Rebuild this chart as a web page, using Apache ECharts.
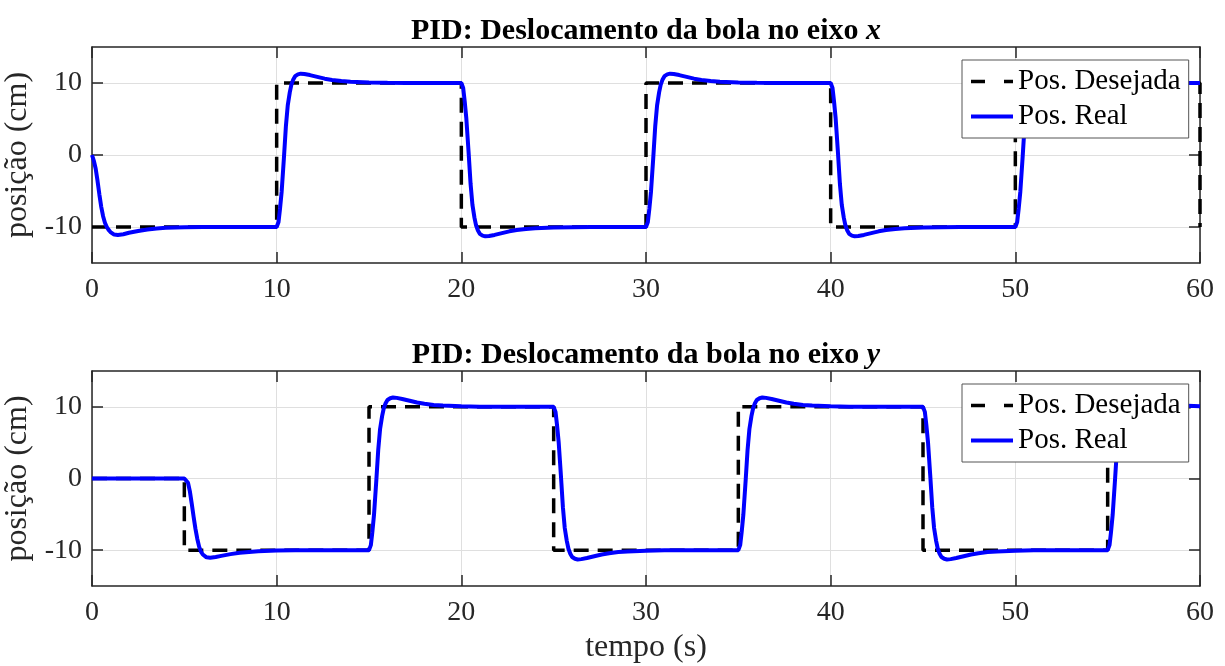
<!DOCTYPE html>
<html lang="pt">
<head>
    <meta charset="UTF-8">
    <title>pid-deslocamento</title>
    <script src="https://cdn.jsdelivr.net/npm/echarts@6/dist/echarts.min.js"></script>
    <style>
        html, body { margin: 0; padding: 0; background: #fff; }
        #main { width: 1225px; height: 666px; }
    </style>
</head>
<body>
<div id="main"></div>
<script>
    // eixo do tempo
    let tempoTicks = [0, 10, 20, 30, 40, 50, 60];
    let posTicks = [-10, 0, 10];

    // eixo x: posicao desejada (degraus)
    let desejadaX = [[0, -10], [10, -10], [10, 10], [20, 10], [20, -10], [30, -10], [30, 10],
        [40, 10], [40, -10], [50, -10], [50, 10], [60, 10], [60, -10]];

    // eixo x: posicao real
    let realX = [
        [0, 0], [0.1, -0.8], [0.2, -1.9], [0.3, -3.6], [0.4, -5.5], [0.5, -7.2], [0.6, -8.5], [0.7, -9.4],
        [0.8, -10.0], [0.9, -10.4], [1.0, -10.7], [1.2, -11.05], [1.4, -11.1], [1.7, -11.0], [2.0, -10.8],
        [2.5, -10.55], [3.0, -10.35], [3.5, -10.2], [4.0, -10.12], [5.0, -10.04], [6.0, -10.01], [10.0, -10.0],
        [10.05, -9.9], [10.1, -9.3], [10.18, -7.5], [10.27, -5.1], [10.39, -0.5], [10.5, 4.0], [10.6, 6.9],
        [10.71, 8.7], [10.8, 9.8], [10.9, 10.5], [11.0, 10.95], [11.15, 11.2], [11.3, 11.3], [11.5, 11.25],
        [11.8, 11.1], [12.2, 10.85], [12.6, 10.6], [13.0, 10.42], [13.5, 10.27], [14.0, 10.17], [15.0, 10.07],
        [16.0, 10.02], [17.0, 10.0], [20.0, 10.0],
        [20.05, 9.9], [20.1, 9.3], [20.18, 7.5], [20.27, 5.1], [20.39, 0.5], [20.5, -4.0], [20.6, -6.9],
        [20.71, -8.7], [20.8, -9.8], [20.9, -10.5], [21.0, -10.95], [21.15, -11.2], [21.3, -11.3], [21.5, -11.25],
        [21.8, -11.1], [22.2, -10.85], [22.6, -10.6], [23.0, -10.42], [23.5, -10.27], [24.0, -10.17], [25.0, -10.07],
        [26.0, -10.02], [27.0, -10.0], [30.0, -10.0],
        [30.05, -9.9], [30.1, -9.3], [30.18, -7.5], [30.27, -5.1], [30.39, -0.5], [30.5, 4.0], [30.6, 6.9],
        [30.71, 8.7], [30.8, 9.8], [30.9, 10.5], [31.0, 10.95], [31.15, 11.2], [31.3, 11.3], [31.5, 11.25],
        [31.8, 11.1], [32.2, 10.85], [32.6, 10.6], [33.0, 10.42], [33.5, 10.27], [34.0, 10.17], [35.0, 10.07],
        [36.0, 10.02], [37.0, 10.0], [40.0, 10.0],
        [40.05, 9.9], [40.1, 9.3], [40.18, 7.5], [40.27, 5.1], [40.39, 0.5], [40.5, -4.0], [40.6, -6.9],
        [40.71, -8.7], [40.8, -9.8], [40.9, -10.5], [41.0, -10.95], [41.15, -11.2], [41.3, -11.3], [41.5, -11.25],
        [41.8, -11.1], [42.2, -10.85], [42.6, -10.6], [43.0, -10.42], [43.5, -10.27], [44.0, -10.17], [45.0, -10.07],
        [46.0, -10.02], [47.0, -10.0], [50.0, -10.0],
        [50.05, -9.9], [50.1, -9.3], [50.18, -7.5], [50.27, -5.1], [50.39, -0.5], [50.5, 4.0], [50.6, 6.9],
        [50.71, 8.7], [50.8, 9.8], [50.9, 10.5], [51.0, 10.95], [51.15, 11.2], [51.3, 11.3], [51.5, 11.25],
        [51.8, 11.1], [52.2, 10.85], [52.6, 10.6], [53.0, 10.42], [53.5, 10.27], [54.0, 10.17], [55.0, 10.07],
        [56.0, 10.02], [57.0, 10.0], [60.0, 10.0]
    ];

    // eixo y: posicao desejada
    let desejadaY = [[0, 0], [5, 0], [5, -10], [15, -10], [15, 10], [25, 10], [25, -10], [35, -10],
        [35, 10], [45, 10], [45, -10], [55, -10], [55, 10], [60, 10]];

    // eixo y: posicao real
    let realY = [
        [0, 0], [5.0, 0], [5.1, -0.1], [5.2, -0.6], [5.3, -1.8], [5.4, -3.5], [5.5, -5.3], [5.6, -7.0],
        [5.7, -8.4], [5.8, -9.5], [5.9, -10.2], [6.0, -10.6], [6.2, -11.0], [6.4, -11.05], [6.7, -10.95],
        [7.0, -10.8], [7.5, -10.55], [8.0, -10.35], [9.0, -10.15], [10.0, -10.06], [11.0, -10.02], [12.0, -10.0],
        [15.0, -10.0],
        [15.05, -9.9], [15.1, -9.3], [15.18, -7.5], [15.27, -5.1], [15.39, -0.5], [15.5, 4.0], [15.6, 6.9],
        [15.71, 8.7], [15.8, 9.8], [15.9, 10.5], [16.0, 10.95], [16.15, 11.2], [16.3, 11.3], [16.5, 11.25],
        [16.8, 11.1], [17.2, 10.85], [17.6, 10.6], [18.0, 10.42], [18.5, 10.27], [19.0, 10.17], [20.0, 10.07],
        [21.0, 10.02], [22.0, 10.0], [25.0, 10.0],
        [25.05, 9.9], [25.1, 9.3], [25.18, 7.5], [25.27, 5.1], [25.39, 0.5], [25.5, -4.0], [25.6, -6.9],
        [25.71, -8.7], [25.8, -9.8], [25.9, -10.5], [26.0, -10.95], [26.15, -11.2], [26.3, -11.3], [26.5, -11.25],
        [26.8, -11.1], [27.2, -10.85], [27.6, -10.6], [28.0, -10.42], [28.5, -10.27], [29.0, -10.17], [30.0, -10.07],
        [31.0, -10.02], [32.0, -10.0], [35.0, -10.0],
        [35.05, -9.9], [35.1, -9.3], [35.18, -7.5], [35.27, -5.1], [35.39, -0.5], [35.5, 4.0], [35.6, 6.9],
        [35.71, 8.7], [35.8, 9.8], [35.9, 10.5], [36.0, 10.95], [36.15, 11.2], [36.3, 11.3], [36.5, 11.25],
        [36.8, 11.1], [37.2, 10.85], [37.6, 10.6], [38.0, 10.42], [38.5, 10.27], [39.0, 10.17], [40.0, 10.07],
        [41.0, 10.02], [42.0, 10.0], [45.0, 10.0],
        [45.05, 9.9], [45.1, 9.3], [45.18, 7.5], [45.27, 5.1], [45.39, 0.5], [45.5, -4.0], [45.6, -6.9],
        [45.71, -8.7], [45.8, -9.8], [45.9, -10.5], [46.0, -10.95], [46.15, -11.2], [46.3, -11.3], [46.5, -11.25],
        [46.8, -11.1], [47.2, -10.85], [47.6, -10.6], [48.0, -10.42], [48.5, -10.27], [49.0, -10.17], [50.0, -10.07],
        [51.0, -10.02], [52.0, -10.0], [55.0, -10.0],
        [55.05, -9.9], [55.1, -9.3], [55.18, -7.5], [55.27, -5.1], [55.39, -0.5], [55.5, 4.0], [55.6, 6.9],
        [55.71, 8.7], [55.8, 9.8], [55.9, 10.5], [56.0, 10.95], [56.15, 11.2], [56.3, 11.3], [56.5, 11.25],
        [56.8, 11.1], [57.2, 10.85], [57.6, 10.6], [58.0, 10.42], [58.5, 10.27], [59.0, 10.17], [60.0, 10.07]
    ];

    let serif = '"Liberation Serif", "DejaVu Serif", serif';
    let axisColor = '#262626';
    let gridColor = '#dfdfdf';

    function titulo(eixo, top) {
        return {
            text: '{b|PID: Deslocamento da bola no eixo }{i|' + eixo + '}',
            left: 641,
            top: top,
            textAlign: 'center',
            textStyle: {
                rich: {
                    b: {fontFamily: serif, fontWeight: 'bold', fontSize: 30, color: '#000'},
                    i: {fontFamily: serif, fontWeight: 'bold', fontStyle: 'italic', fontSize: 30, color: '#000'}
                }
            }
        };
    }

    /*
    * eixo de tempo (principal ou espelho em cima)
    * */
    function eixoTempo(gridIndex, principal, comNome) {
        return {
            type: 'value',
            gridIndex: gridIndex,
            position: principal ? 'bottom' : 'top',
            min: 0,
            max: 60,
            interval: 10,
            name: comNome ? 'tempo (s)' : '',
            nameLocation: 'middle',
            nameGap: 46,
            nameTextStyle: {fontFamily: serif, fontSize: 32, color: axisColor},
            axisLine: {show: true, onZero: false, lineStyle: {color: axisColor, width: 1.5}},
            axisTick: {show: true, inside: true, length: 11, lineStyle: {color: axisColor, width: 1.5}},
            axisLabel: {
                show: principal, margin: 13, fontFamily: serif, fontSize: 28, color: axisColor,
                formatter: v => tempoTicks.indexOf(v) >= 0 ? String(v) : ''
            },
            splitLine: {show: principal, lineStyle: {color: gridColor, width: 1}}
        };
    }

    function eixoPos(gridIndex, principal) {
        return {
            type: 'value',
            gridIndex: gridIndex,
            position: principal ? 'left' : 'right',
            min: -15,
            max: 15,
            interval: 5,
            name: principal ? 'posição (cm)' : '',
            nameLocation: 'middle',
            nameGap: 54,
            nameTextStyle: {fontFamily: serif, fontSize: 32, color: axisColor},
            axisLine: {show: true, onZero: false, lineStyle: {color: axisColor, width: 1.5}},
            axisTick: {
                show: true, inside: true, length: 11, lineStyle: {color: axisColor, width: 1.5},
                customValues: posTicks
            },
            axisLabel: {
                show: principal, margin: 10, fontFamily: serif, fontSize: 28, color: axisColor,
                customValues: posTicks,
                formatter: v => String(v)
            },
            splitLine: {show: principal, lineStyle: {color: gridColor, width: 1}}
        };
    }

    function serieDesejada(idx, dados) {
        return {
            name: 'Pos. Desejada', type: 'line', xAxisIndex: idx, yAxisIndex: idx,
            data: dados, showSymbol: false, symbol: 'none', z: 2,
            lineStyle: {color: '#000', width: 3.5, type: [15, 9]},
            itemStyle: {color: '#000'}
        };
    }

    function serieReal(idx, dados) {
        return {
            name: 'Pos. Real', type: 'line', xAxisIndex: idx, yAxisIndex: idx,
            data: dados, showSymbol: false, symbol: 'none', z: 3,
            lineStyle: {color: '#0000ff', width: 4},
            itemStyle: {color: '#0000ff'}
        };
    }

    function legenda(top) {
        return {
            orient: 'vertical',
            left: 962,
            top: top,
            z: 10,
            data: [
                {name: 'Pos. Desejada', lineStyle: {color: '#000', width: 3.5, type: [14, 19]}},
                {name: 'Pos. Real', lineStyle: {color: '#0000ff', width: 4, type: 'solid'}}
            ],
            backgroundColor: '#fff',
            borderColor: '#555',
            borderWidth: 1,
            borderRadius: 0,
            padding: [7, 8, 7, 7],
            itemWidth: 42,
            itemHeight: 14,
            itemGap: 6,
            itemStyle: {opacity: 0},
            textStyle: {fontFamily: serif, fontSize: 29, color: '#000'},
            selectedMode: false
        };
    }

    let option = {
        animation: false,
        backgroundColor: '#fff',
        title: [titulo('x', 11), titulo('y', 335)],
        legend: [legenda(60), legenda(384)],
        grid: [
            {left: 92, top: 47, width: 1108, height: 216, outerBoundsMode: 'none', containLabel: false},
            {left: 92, top: 371, width: 1108, height: 215, outerBoundsMode: 'none', containLabel: false}
        ],
        xAxis: [eixoTempo(0, true, false), eixoTempo(1, true, true), eixoTempo(0, false, false), eixoTempo(1, false, false)],
        yAxis: [eixoPos(0, true), eixoPos(1, true), eixoPos(0, false), eixoPos(1, false)],
        series: [
            serieDesejada(0, desejadaX), serieReal(0, realX),
            serieDesejada(1, desejadaY), serieReal(1, realY)
        ]
    };

    let myChart = echarts.init(document.getElementById('main'), null, {renderer: 'canvas'});
    myChart.setOption(option);
</script>
</body>
</html>
